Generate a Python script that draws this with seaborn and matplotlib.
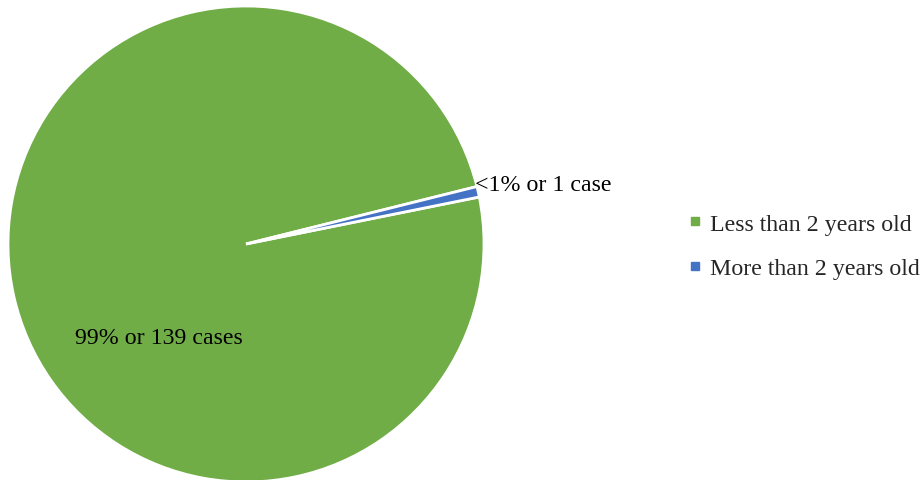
import matplotlib
matplotlib.use("Agg")
import matplotlib.pyplot as plt
from matplotlib.lines import Line2D
import seaborn as sns

categories = ["Less than 2 years old", "More than 2 years old"]
cases = [139, 1]
slice_labels = ["99% or 139 cases", "<1% or 1 case"]
colors = ["#70AD47", "#4472C4"]

sns.set_theme(style="white")
plt.rcParams["font.family"] = ["Liberation Serif", "DejaVu Serif"]

W, H = 923, 481
fig = plt.figure(figsize=(W / 100, H / 100), dpi=100)
cx, cy, r = 246, 245, 238
ax = fig.add_axes([(cx - r) / W, (H - cy - r) / H, 2 * r / W, 2 * r / H])

wedges, _ = ax.pie(cases, colors=colors, startangle=11.4, counterclock=False,
                   radius=1, wedgeprops=dict(edgecolor="white", linewidth=2))
ax.set_xlim(-1, 1)
ax.set_ylim(-1, 1)
ax.set_aspect("equal")
ax.axis("off")

ax.text(-0.367, -0.392, slice_labels[0], ha="center", va="center", fontsize=17.2, color="black")
ax.text(0.963, 0.25, slice_labels[1], ha="left", va="center", fontsize=17.2, color="black")

handles = [Line2D([], [], marker="s", linestyle="none", markersize=5.5,
                  markerfacecolor=c, markeredgecolor=c) for c in colors]
fig.legend(handles, categories, loc="center left", bbox_to_anchor=(688 / W, 1 - 247 / H),
           frameon=False, fontsize=17.2, handlelength=0.6, handletextpad=0.3,
           labelspacing=0.95, borderpad=0, borderaxespad=0)

fig.savefig("out.png", dpi=100)
